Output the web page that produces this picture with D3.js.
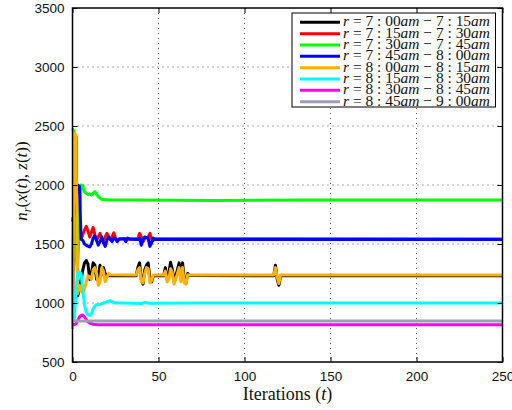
<!DOCTYPE html>
<html>
<head>
<meta charset="utf-8">
<script src="https://cdn.jsdelivr.net/npm/d3@7"></script>
<style>
  html, body { margin: 0; padding: 0; background: #fff; }
  svg { display: block; }
</style>
</head>
<body>
<svg id="chart" width="512" height="410"></svg>
<script>
// ---------- data (iteration, value) ----------
const xTicks = [0, 50, 100, 150, 200, 250];
const yTicks = [500, 1000, 1500, 2000, 2500, 3000, 3500];

const seriesNames = [
  ["7", "00", "7", "15"],
  ["7", "15", "7", "30"],
  ["7", "30", "7", "45"],
  ["7", "45", "8", "00"],
  ["8", "00", "8", "15"],
  ["8", "15", "8", "30"],
  ["8", "30", "8", "45"],
  ["8", "45", "9", "00"]
];
const seriesColors = ["#000000", "#ff0000", "#00ff00", "#0000ff", "#ffb000", "#00ffff", "#ff00ff", "#9d9db5"];

const black = [[0,790],[1,2420],[2,2410],[3,1060],[4,1120],[5,1200],[6,1280],[7,1340],[8,1360],[9,1330],[10,1200],[11,1250],[12,1340],[13,1320],[14,1200],[15,1230],[16,1320],[17,1240],[18,1300],[19,1250],[20,1230],[22,1232],[37,1230],[38,1300],[39,1340],[40,1200],[41,1160],[42,1280],[43,1320],[44,1340],[45,1200],[46,1180],[47,1230],[53,1230],[54,1300],[55,1200],[56,1250],[57,1345],[58,1290],[59,1180],[60,1230],[61,1280],[62,1340],[63,1250],[64,1340],[65,1200],[66,1170],[67,1250],[68,1232],[117,1230],[118,1320],[119,1200],[120,1150],[121,1230],[250,1230]];
const red = [[0,1730],[1,1700],[2,1650],[3,1600],[4,1560],[5,1545],[6,1580],[7,1620],[8,1650],[9,1610],[10,1560],[11,1600],[12,1640],[13,1580],[14,1530],[15,1560],[16,1590],[17,1540],[18,1520],[19,1560],[20,1590],[21,1560],[22,1540],[23,1560],[24,1595],[25,1550],[26,1530],[27,1545],[38,1545],[39,1590],[40,1560],[41,1520],[42,1545],[44,1560],[45,1590],[46,1540],[47,1530],[48,1545],[250,1543]];
const green = [[0,2480],[1,2450],[2,1400],[3,1300],[4,1700],[5,2000],[6,1995],[7,1940],[8,1930],[9,1920],[10,1925],[11,1915],[12,1930],[13,1945],[14,1920],[15,1905],[16,1890],[17,1880],[18,1878],[20,1875],[40,1872],[80,1868],[130,1872],[250,1872]];
const blue = [[0,1690],[1,1750],[2,1900],[3,2000],[4,1990],[5,1540],[6,1530],[7,1500],[8,1490],[9,1480],[10,1475],[11,1500],[12,1550],[13,1570],[14,1530],[15,1490],[16,1520],[17,1560],[18,1510],[19,1480],[20,1530],[21,1560],[22,1540],[23,1520],[24,1550],[25,1545],[26,1520],[27,1540],[30,1545],[31,1520],[32,1550],[33,1540],[38,1538],[39,1550],[40,1490],[41,1540],[42,1560],[44,1550],[45,1480],[46,1510],[47,1550],[48,1538],[250,1538]];
const orange = [[0,780],[1,2440],[2,2420],[3,1080],[4,1150],[5,1100],[6,1085],[7,1120],[8,1180],[9,1230],[10,1220],[11,1200],[12,1280],[13,1300],[14,1250],[15,1150],[16,1180],[17,1300],[18,1270],[19,1180],[20,1220],[21,1250],[22,1240],[37,1237],[38,1280],[39,1300],[40,1180],[41,1170],[42,1250],[43,1300],[44,1290],[45,1170],[46,1190],[47,1237],[53,1237],[54,1270],[55,1180],[56,1200],[57,1290],[58,1260],[59,1160],[60,1200],[61,1250],[62,1300],[63,1180],[64,1300],[65,1170],[66,1160],[67,1240],[68,1237],[117,1237],[118,1300],[119,1220],[120,1165],[121,1237],[250,1237]];
const cyan = [[0,860],[1,860],[2,1100],[3,1255],[4,1265],[5,1250],[6,1100],[7,980],[8,920],[9,900],[10,895],[11,910],[12,950],[13,975],[14,985],[16,990],[18,1000],[20,1010],[22,1020],[23,1010],[25,1000],[30,1000],[40,995],[42,1005],[44,998],[70,1000],[250,1000]];
const magenta = [[0,820],[1,815],[2,825],[3,850],[4,880],[5,895],[6,898],[7,880],[8,860],[9,840],[10,830],[12,820],[15,815],[250,815]];
const gray = [[0,848],[250,848]];

const allSeries = [black, red, green, blue, orange, cyan, magenta, gray];

// ---------- layout ----------
const svg = d3.select("#chart");
const L = 72.5, R = 502.5, T = 8, B = 362;
const x = d3.scaleLinear().domain([0, 250]).range([L, R]);
const y = d3.scaleLinear().domain([500, 3500]).range([B, T]);

// grid
const grid = svg.append("g");
grid.selectAll("line.gx").data(xTicks.slice(1, -1)).join("line")
  .attr("x1", d => x(d)).attr("x2", d => x(d)).attr("y1", T).attr("y2", B)
  .attr("stroke", "#555").attr("stroke-width", 1).attr("stroke-dasharray", "1,4");
grid.selectAll("line.gy").data(yTicks.slice(1, -1)).join("line")
  .attr("y1", d => y(d)).attr("y2", d => y(d)).attr("x1", L).attr("x2", R)
  .attr("stroke", "#555").attr("stroke-width", 1).attr("stroke-dasharray", "1,4");

// lines
const line = d3.line().x(d => x(d[0])).y(d => y(d[1]));
svg.append("g").selectAll("path").data(allSeries).join("path")
  .attr("d", line)
  .attr("fill", "none")
  .attr("stroke", (d, i) => seriesColors[i])
  .attr("stroke-width", 3)
  .attr("stroke-linejoin", "round");

// axes (ticks inward on all four sides)
const tickFont = "'Liberation Sans', Arial, sans-serif";
const fmt = d3.format("d");
const axB = svg.append("g").attr("transform", `translate(0,${B})`)
  .call(d3.axisBottom(x).tickValues(xTicks).tickFormat(fmt).tickSize(-5).tickPadding(9).tickSizeOuter(0));
const axT = svg.append("g").attr("transform", `translate(0,${T})`)
  .call(d3.axisTop(x).tickValues(xTicks).tickSize(-5).tickFormat("").tickSizeOuter(0));
const axL = svg.append("g").attr("transform", `translate(${L},0)`)
  .call(d3.axisLeft(y).tickValues(yTicks).tickFormat(fmt).tickSize(-5).tickPadding(8).tickSizeOuter(0));
const axR = svg.append("g").attr("transform", `translate(${R},0)`)
  .call(d3.axisRight(y).tickValues(yTicks).tickSize(-5).tickFormat("").tickSizeOuter(0));
[axB, axT, axL, axR].forEach(a => {
  a.select(".domain").remove();
  a.selectAll("line").attr("stroke", "#000").attr("stroke-width", 1);
  a.selectAll("text").attr("font-family", tickFont).attr("font-size", 13.5).attr("fill", "#111");
});

// frame
svg.append("rect").attr("x", L).attr("y", T).attr("width", R - L).attr("height", B - T)
  .attr("fill", "none").attr("stroke", "#000").attr("stroke-width", 1.5);

// axis labels
const serif = "'Liberation Serif', 'Times New Roman', serif";
const xl = svg.append("text").attr("x", (L + R) / 2).attr("y", 400)
  .attr("text-anchor", "middle").attr("font-family", serif).attr("font-size", 18).attr("fill", "#111");
xl.append("tspan").text("Iterations (");
xl.append("tspan").attr("font-style", "italic").text("t");
xl.append("tspan").text(")");

const yl = svg.append("text").attr("transform", `translate(27,${(T + B) / 2 - 4}) rotate(-90)`)
  .attr("text-anchor", "middle").attr("font-family", serif).attr("font-size", 17).attr("fill", "#111");
yl.append("tspan").attr("font-style", "italic").text("n");
yl.append("tspan").attr("font-style", "italic").attr("font-size", 12).attr("dy", 4).text("r");
yl.append("tspan").attr("dy", -4).text("(");
yl.append("tspan").attr("font-style", "italic").text("x");
yl.append("tspan").text("(");
yl.append("tspan").attr("font-style", "italic").text("t");
yl.append("tspan").text("), ");
yl.append("tspan").attr("font-style", "italic").text("z");
yl.append("tspan").text("(");
yl.append("tspan").attr("font-style", "italic").text("t");
yl.append("tspan").text("))");

// legend
const lg = svg.append("g");
lg.append("rect").attr("x", 292).attr("y", 13).attr("width", 203.5).attr("height", 94)
  .attr("fill", "#fff").attr("stroke", "#000").attr("stroke-width", 1);
const rowY = i => 22.3 + i * 11.34;
seriesNames.forEach((n, i) => {
  lg.append("line").attr("x1", 300).attr("x2", 340).attr("y1", rowY(i)).attr("y2", rowY(i))
    .attr("stroke", seriesColors[i]).attr("stroke-width", 3);
  const t = lg.append("text").attr("x", 343).attr("y", rowY(i) + 4)
    .attr("font-family", serif).attr("font-size", 13).attr("fill", "#111");
  t.append("tspan").attr("font-style", "italic").text("r");
  t.append("tspan").text(` = ${n[0]} : ${n[1]}`);
  t.append("tspan").attr("font-style", "italic").text("am");
  t.append("tspan").text(` \u2212 ${n[2]} : ${n[3]}`);
  t.append("tspan").attr("font-style", "italic").text("am");
  const w = t.node().getComputedTextLength();
  if (w > 0) t.attr("font-size", 13 * 147 / w);
});
</script>
</body>
</html>
